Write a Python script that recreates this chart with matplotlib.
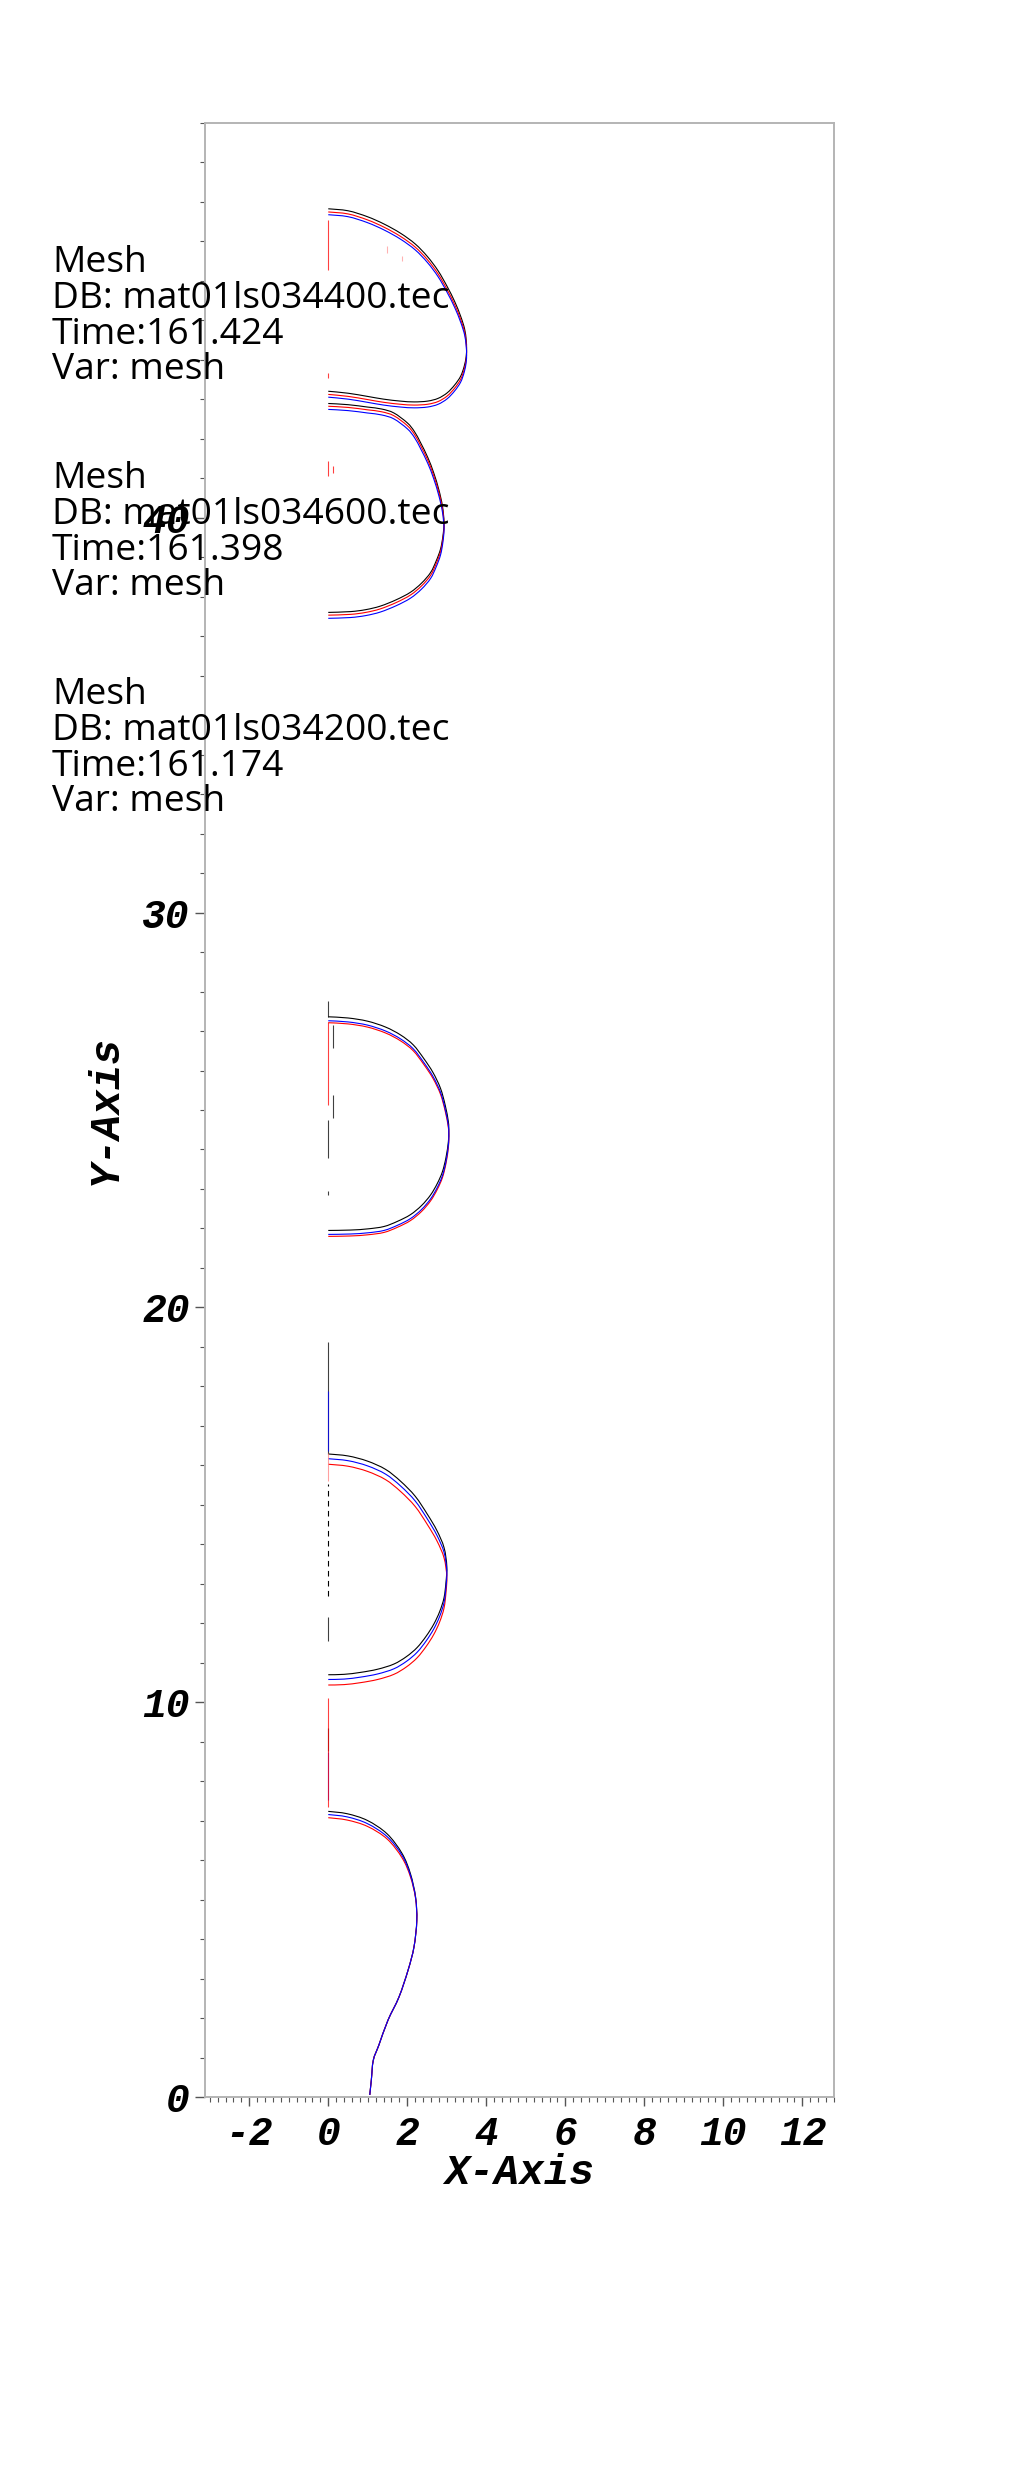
import matplotlib
matplotlib.use('Agg')
import matplotlib.pyplot as plt
from matplotlib.path import Path
from matplotlib.patches import PathPatch
from matplotlib.ticker import MultipleLocator

# interface outlines, one x list per bubble
# (bottom bubble first), one y list per colour
b1_x = [1.05, 1.09, 1.14, 1.28, 1.51, 1.79, 2.02, 2.17, 2.24, 2.21, 2.08, 1.87, 1.49, 0.99, 0.48, 0.00]
b1_black = [0.06, 0.44, 0.94, 1.32, 1.95, 2.54, 3.22, 3.81, 4.48, 5.07, 5.66, 6.17, 6.67, 7.01, 7.18, 7.24]
b1_red = [0.06, 0.44, 0.94, 1.32, 1.95, 2.54, 3.22, 3.81, 4.46, 5.03, 5.58, 6.06, 6.54, 6.86, 7.02, 7.08]
b1_blue = [0.06, 0.44, 0.94, 1.32, 1.95, 2.54, 3.22, 3.81, 4.47, 5.05, 5.62, 6.12, 6.60, 6.93, 7.10, 7.16]

b2_x = [0.00, 0.50, 0.99, 1.45, 1.83, 2.20, 2.51, 2.75, 2.93, 3.00, 2.98, 2.93, 2.82, 2.67, 2.48, 2.25,
        1.98, 1.66, 1.25, 0.82, 0.40, 0.00]
b2_black = [16.29, 16.24, 16.11, 15.90, 15.60, 15.22, 14.76, 14.35, 13.92, 13.45, 13.05, 12.65, 12.30,
            11.98, 11.68, 11.39, 11.16, 10.97, 10.84, 10.76, 10.71, 10.70]
b2_red = [16.03, 15.98, 15.85, 15.64, 15.34, 14.96, 14.50, 14.09, 13.66, 13.19, 12.79, 12.39, 12.04,
          11.72, 11.42, 11.13, 10.90, 10.71, 10.58, 10.50, 10.45, 10.44]
b2_blue = [16.17, 16.12, 15.99, 15.78, 15.48, 15.10, 14.64, 14.23, 13.80, 13.33, 12.93, 12.53, 12.18,
           11.86, 11.56, 11.27, 11.04, 10.85, 10.72, 10.64, 10.59, 10.58]

b3_x = [0.00, 0.50, 0.99, 1.45, 1.83, 2.15, 2.42, 2.65, 2.84, 2.96, 3.04, 3.05, 3.04, 2.98, 2.89, 2.76,
        2.59, 2.36, 2.08, 1.75, 1.41, 1.00, 0.56, 0.00]
b3_black = [27.36, 27.33, 27.25, 27.10, 26.90, 26.65, 26.30, 25.95, 25.55, 25.12, 24.70, 24.45, 24.20,
            23.80, 23.44, 23.14, 22.85, 22.58, 22.35, 22.18, 22.05, 21.99, 21.96, 21.95]
b3_red = [27.21, 27.18, 27.10, 26.95, 26.75, 26.50, 26.15, 25.80, 25.40, 24.97, 24.55, 24.30, 24.05,
          23.65, 23.29, 22.99, 22.70, 22.43, 22.20, 22.03, 21.90, 21.84, 21.81, 21.80]
b3_blue = [27.26, 27.23, 27.15, 27.00, 26.80, 26.55, 26.20, 25.85, 25.45, 25.02, 24.60, 24.35, 24.10,
           23.70, 23.34, 23.04, 22.75, 22.48, 22.25, 22.08, 21.95, 21.89, 21.86, 21.85]

b4_x = [0.00, 0.50, 0.99, 1.35, 1.66, 2.00, 2.18, 2.34, 2.52, 2.67, 2.80, 2.89, 2.93, 2.90, 2.84, 2.73,
        2.59, 2.36, 2.08, 1.72, 1.32, 0.95, 0.56, 0.00]
b4_black = [42.89, 42.86, 42.80, 42.75, 42.65, 42.40, 42.18, 41.89, 41.52, 41.13, 40.70, 40.29, 39.87,
            39.52, 39.20, 38.90, 38.61, 38.34, 38.11, 37.92, 37.76, 37.67, 37.62, 37.60]
b4_red = [42.82, 42.79, 42.73, 42.68, 42.58, 42.33, 42.11, 41.82, 41.45, 41.06, 40.63, 40.22, 39.80,
          39.45, 39.13, 38.83, 38.54, 38.27, 38.04, 37.85, 37.69, 37.60, 37.55, 37.53]
b4_blue = [42.74, 42.71, 42.65, 42.60, 42.50, 42.25, 42.03, 41.74, 41.37, 40.98, 40.55, 40.14, 39.72,
           39.37, 39.05, 38.75, 38.46, 38.19, 37.96, 37.77, 37.61, 37.52, 37.47, 37.45]

b5_x = [0.00, 0.50, 0.99, 1.42, 1.83, 2.20, 2.51, 2.78, 3.01, 3.20, 3.35, 3.45, 3.49, 3.50, 3.49, 3.44,
        3.35, 3.20, 3.01, 2.78, 2.51, 2.17, 1.83, 1.40, 0.99, 0.50, 0.00]
b5_black = [47.82, 47.77, 47.62, 47.43, 47.20, 46.93, 46.61, 46.25, 45.85, 45.47, 45.10, 44.78, 44.50,
            44.29, 44.08, 43.83, 43.58, 43.36, 43.16, 43.02, 42.95, 42.93, 42.95, 43.00, 43.07, 43.15, 43.20]
b5_red = [47.74, 47.69, 47.54, 47.35, 47.12, 46.85, 46.53, 46.17, 45.77, 45.39, 45.02, 44.70, 44.42,
          44.21, 44.00, 43.75, 43.50, 43.28, 43.08, 42.94, 42.87, 42.85, 42.87, 42.92, 42.99, 43.07, 43.12]
b5_blue = [47.67, 47.62, 47.47, 47.28, 47.05, 46.78, 46.46, 46.10, 45.70, 45.32, 44.95, 44.63, 44.35,
           44.14, 43.93, 43.68, 43.43, 43.21, 43.01, 42.87, 42.80, 42.78, 42.80, 42.85, 42.92, 43.00, 43.05]

# small vertical mesh pieces on / near the axis of symmetry
stub_x = [0.00, 0.00, 0.00, 0.00, 0.11, 0.11, 0.00, 0.00, 0.00, 0.00,
          0.00, 0.00, 0.00, 0.00, 0.00, 0.12, 1.49, 1.87, 0.00]
stub_y0 = [16.29, 27.36, 8.77, 11.56, 26.56, 24.79, 23.78, 22.85, 16.36, 7.52,
           25.12, 7.34, 46.27, 43.54, 41.05, 41.13, 46.70, 46.51, 15.60]
stub_y1 = [19.12, 27.77, 9.36, 12.15, 27.15, 25.38, 24.75, 22.94, 17.88, 8.74,
           27.23, 10.12, 47.54, 43.65, 41.43, 41.30, 46.87, 46.63, 16.32]
stub_c = ['black', 'black', 'black', 'black', 'black', 'black', 'black', 'black', 'blue', 'blue',
          'red', 'red', 'red', 'red', 'red', 'red', '#ff9999', '#ff9999', '#ff8080']
dash_x = [0.0]
dash_y0 = [12.70]
dash_y1 = [15.52]

y_tick_vals = [0, 10, 20, 30, 40]
db_files = ['mat01ls034400.tec', 'mat01ls034600.tec', 'mat01ls034200.tec']
times = ['161.424', '161.398', '161.174']


def smooth(xs, ys):
    # smooth curve through the read points (Catmull-Rom as cubic Beziers)
    p = list(zip(xs, ys))
    n = len(p)
    verts = [p[0]]
    codes = [Path.MOVETO]
    for i in range(n - 1):
        a = p[i - 1] if i > 0 else p[i]
        b, c = p[i], p[i + 1]
        d = p[i + 2] if i + 2 < n else p[i + 1]
        verts.append((b[0] + (c[0] - a[0]) / 6, b[1] + (c[1] - a[1]) / 6))
        verts.append((c[0] - (d[0] - b[0]) / 6, c[1] - (d[1] - b[1]) / 6))
        verts.append(c)
        codes += [Path.CURVE4] * 3
    return Path(verts, codes)


W, H = 1024, 2468
fig = plt.figure(figsize=(W / 100, H / 100), dpi=100)
ax = fig.add_axes([205 / W, 1 - 2097.3 / H, (834 - 205) / W, (2097.3 - 122.7) / H])

bubbles = [(b1_x, b1_black, b1_red, b1_blue),
           (b2_x, b2_black, b2_red, b2_blue),
           (b3_x, b3_black, b3_red, b3_blue),
           (b4_x, b4_black, b4_red, b4_blue),
           (b5_x, b5_black, b5_red, b5_blue)]
for bx, yk, yr, yb in bubbles:
    for yy, col in [(yk, 'black'), (yr, '#ff0000'), (yb, '#0000ff')]:
        ax.add_patch(PathPatch(smooth(bx, yy), fill=False, edgecolor=col, lw=0.8))

ax.vlines(stub_x, stub_y0, stub_y1, colors=stub_c, lw=0.8, alpha=0.75)
ax.vlines(dash_x, dash_y0, dash_y1, colors='black', lw=0.8, linestyles=(0, (5, 4)))

ax.set_xlim(-3.12, 12.80)
ax.set_ylim(0, 50)

for s in ax.spines.values():
    s.set_color('#b4b4b4')
    s.set_linewidth(1.4)

ax.xaxis.set_major_locator(MultipleLocator(2))
ax.xaxis.set_minor_locator(MultipleLocator(0.2))
ax.set_yticks(y_tick_vals)
ax.yaxis.set_minor_locator(MultipleLocator(1))
ax.tick_params(which='major', direction='out', color='#555555', width=1.0)
ax.tick_params(axis='x', which='major', length=6.5, pad=6)
ax.tick_params(axis='y', which='major', length=7, pad=4)
ax.tick_params(which='minor', direction='out', color='#555555', width=0.8, length=3.5)

tick_font = dict(family='Liberation Mono', weight='bold', style='italic', size=28.5)
ax.set_xticklabels([f'{int(v)}' for v in ax.get_xticks()], fontdict=tick_font)
ax.set_yticklabels([f'{v}' for v in y_tick_vals], fontdict=tick_font)
ax.set_xlim(-3.12, 12.80)
ax.set_ylim(0, 50)

lab_font = dict(family='Liberation Mono', weight='bold', style='italic', size=30)
ax.set_xlabel('X-Axis', fontdict=lab_font, labelpad=0)
ax.set_ylabel('Y-Axis', fontdict=lab_font, labelpad=12)

# VisIt style legend blocks, size fitted so the DB line is ~397 px wide
renderer = fig.canvas.get_renderer()
probe = fig.text(0, 0, 'DB: ' + db_files[0], family='Open Sans', size=25)
wpx = probe.get_window_extent(renderer).width
probe.remove()
leg_size = 25 * 397 / wpx

for i in range(3):
    base = 272.5 + 216 * i
    lines = ['Mesh', 'DB: ' + db_files[i], 'Time:' + times[i], 'Var: mesh']
    for j, s in enumerate(lines):
        fig.text(52 / W, 1 - (base + 35.5 * j) / H, s, family='Open Sans',
                 size=leg_size, va='baseline', ha='left', color='black')

fig.savefig('out.png', dpi=100)
